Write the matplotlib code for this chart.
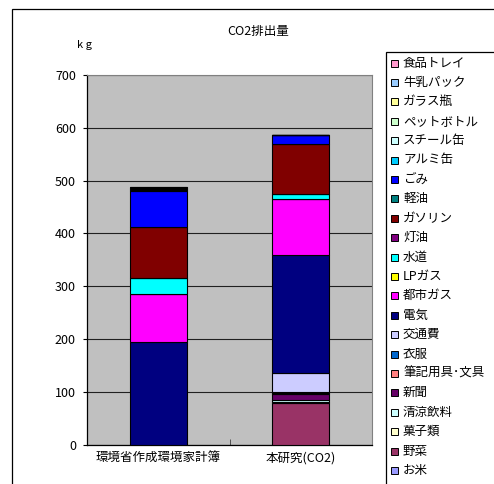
import matplotlib
matplotlib.use("Agg")
import matplotlib.pyplot as plt
from matplotlib.patches import Rectangle

plt.rcParams['font.family'] = ['Noto Sans CJK JP', 'DejaVu Sans']

categories = ["環境省作成環境家計簿", "本研究(CO2)"]

# series in stacking order (bottom -> top)
series_names = ["お米", "野菜", "菓子類", "清涼飲料", "新聞", "筆記用具･文具", "衣服",
                "交通費", "電気", "都市ガス", "LPガス", "水道", "灯油", "ガソリン",
                "軽油", "ごみ", "アルミ缶", "スチール缶", "ペットボトル", "ガラス瓶",
                "牛乳パック", "食品トレイ"]

okome      = [0, 0]
yasai      = [0, 79]
kashi      = [0, 3]
seiryo     = [0, 3]
shinbun    = [0, 12]
bungu      = [0, 2]
ifuku      = [0, 2]
kotsu      = [0, 34.5]
denki      = [194, 224]
toshigas   = [91, 106]
lpgas      = [0, 0]
suido      = [31, 9]
toyu       = [0, 0]
gasoline   = [95.5, 94.5]
keiyu      = [0, 0]
gomi       = [69, 17]
alumi      = [2, 0]
steel      = [1.5, 0]
pet        = [1.5, 0]
glass      = [1, 0]
milk       = [1, 0]
tray       = [0.5, 0]

series_values = [okome, yasai, kashi, seiryo, shinbun, bungu, ifuku, kotsu, denki,
                 toshigas, lpgas, suido, toyu, gasoline, keiyu, gomi, alumi, steel,
                 pet, glass, milk, tray]

colors = ["#9999FF", "#993366", "#FFFFCC", "#CCFFFF", "#660066", "#FF8080", "#0066CC",
          "#CCCCFF", "#000080", "#FF00FF", "#FFFF00", "#00FFFF", "#800080", "#800000",
          "#008080", "#0000FF", "#00CCFF", "#CCFFFF", "#CCFFCC", "#FFFF99",
          "#99CCFF", "#FF99CC"]

yticks = [0, 100, 200, 300, 400, 500, 600, 700]

W, H = 494, 484
fig = plt.figure(figsize=(W / 100, H / 100), dpi=100)
ax = fig.add_axes([87 / W, 1 - 445 / H, (372 - 87) / W, (445 - 74.7) / H])
ax.set_facecolor("#C0C0C0")

x = list(range(len(categories)))
bottom = [0.0] * len(categories)
for name, vals, c in zip(series_names, series_values, colors):
    ax.bar(x, vals, width=0.4, bottom=bottom, color=c, edgecolor="black",
           linewidth=0.8, zorder=3)
    bottom = [b + v for b, v in zip(bottom, vals)]

ax.set_xlim(-0.5, 1.5)
ax.set_ylim(0, 700)
ax.set_yticks(yticks)
ax.set_yticklabels([str(t) for t in yticks], fontsize=9)
ax.yaxis.grid(True, color="#202020", linewidth=0.8, zorder=1)
ax.set_xticks(x)
ax.set_xticklabels(categories, fontsize=9)
ax.tick_params(axis="x", length=0, pad=5)
ax.set_xticks([-0.5, 0.5, 1.5], minor=True)
ax.tick_params(axis="x", which="minor", direction="in", length=4, color="#404040")
ax.tick_params(axis="y", direction="out", length=3, pad=5, width=0.8)
for s in ["left", "bottom"]:
    ax.spines[s].set_color("black")
    ax.spines[s].set_linewidth(0.9)
for s in ["top", "right"]:
    ax.spines[s].set_color("#808080")
    ax.spines[s].set_linewidth(0.8)

fig.text(258 / W, 1 - 32 / H, "CO2排出量", ha="center", va="center", fontsize=9)
fig.text(84 / W, 1 - 45 / H, "k g", ha="center", va="center", fontsize=8)

# outer chart frame
fig.add_artist(Rectangle((12 / W, -0.1), 1.0, 1 - 9 / H + 0.1, transform=fig.transFigure,
                         fill=False, edgecolor="black", linewidth=0.9))
# legend box
fig.add_artist(Rectangle((386 / W, -0.1), 1.0, 1 - 52 / H + 0.1, transform=fig.transFigure,
                         fill=False, edgecolor="black", linewidth=0.9))
legend_order = list(range(len(series_names)))[::-1]
for i, idx in enumerate(legend_order):
    yc = 63 + i * 19.4
    fig.add_artist(Rectangle((391 / W, 1 - (yc + 3.5) / H), 7 / W, 7 / H,
                             transform=fig.transFigure, facecolor=colors[idx],
                             edgecolor="black", linewidth=0.7))
    fig.text(403 / W, 1 - yc / H, series_names[idx], ha="left", va="center", fontsize=9)

fig.savefig("out.png", dpi=100)
